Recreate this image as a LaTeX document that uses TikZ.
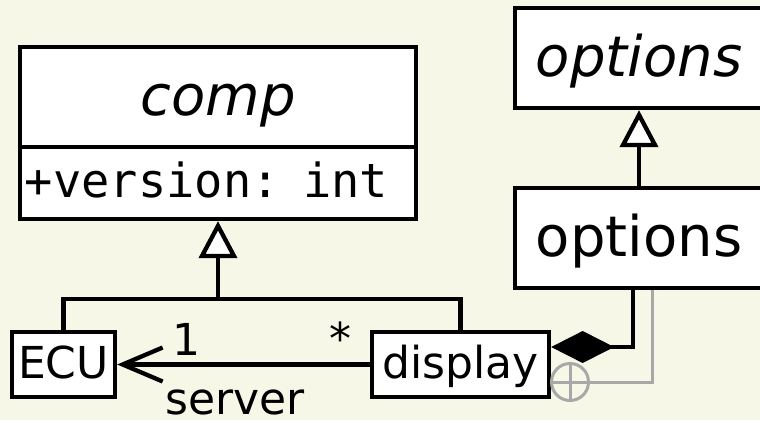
\documentclass[tikz,border=0pt]{standalone}
\usepackage{fontspec}
\setmainfont{DejaVu Sans}
\setmonofont{DejaVu Sans Mono}
\usepackage{tikz}
\usetikzlibrary{positioning,calc}
\usetikzlibrary{arrows.meta,shapes}
\definecolor{paper}{RGB}{247,247,232}
\definecolor{nestgray}{RGB}{168,168,168}
\newcommand\umlbig{\fontsize{56bp}{64bp}\selectfont}
\newcommand\umlsmall{\fontsize{44bp}{50bp}\selectfont}
\newcommand\umlmono{\ttfamily\fontsize{47bp}{52bp}\selectfont}
\tikzstyle{class} = [rectangle,draw=black,fill=white,line width=4.3bp,inner sep=0pt]
\tikzstyle{bigclass} = [class,font=\umlbig,text height=42bp,text depth=6bp,minimum height=100bp]
\tikzstyle{smallclass} = [class,font=\umlsmall,text height=32bp,text depth=5bp,minimum height=65bp]
\tikzstyle{label} = [inner sep=0pt,anchor=base,font=\umlsmall]
\tikzstyle{line} = [line width=4.3bp]
\tikzstyle{inherit} = [line,-{Triangle[open,fill=white,length=37bp,width=38bp]}]
\tikzstyle{assoc} = [line,-{Straight Barb[length=40bp,width=34bp]}]
\tikzstyle{compose} = [line,-{Diamond[length=63bp,width=32bp]}]
\tikzstyle{nest} = [draw=nestgray,line width=3bp]

\begin{document}
\begin{tikzpicture}[x=1bp,y=-1bp]
    \clip (0,0) rectangle (760,420);
    \fill[paper] (0,0) rectangle (760,420);
    % classes
    \node[bigclass,minimum width=396bp] (comp) at (218,97) {\itshape comp};
    \node[class,minimum width=396bp,minimum height=72bp,text width=386bp,align=left,
          font=\umlmono,text height=34bp,text depth=6bp] (attr) at (218,183) {+version: int};
    \node[bigclass,minimum width=248bp] (absopt) at (639,58) {\itshape options};
    \node[bigclass,minimum width=248bp] (opt) at (639,238) {options};
    \node[smallclass,minimum width=103bp] (ecu) at (63.5,364.5) {ECU};
    \node[smallclass,minimum width=177bp] (display) at (460.5,364.5) {display};
    \node[nest,circle,minimum size=37bp,inner sep=0pt] (plus) at (570,382) {};
    \draw[nest] (plus.north) -- (plus.south) (plus.west) -- (plus.east);
    % generalisations
    \coordinate (gen) at ($(attr.south)+(0,78)$);
    \draw[line] (ecu.north) |- (gen) -| (display.north);
    \draw[inherit] (gen) -- (attr.south);
    \draw[inherit] (opt.north) -- (absopt.south);
    % association
    \draw[assoc] (display.west) -- (ecu.east);
    \node[label] (one) at (186,355) {1};
    \node[label] (many) at (340,354) {*};
    \node[label] (role) at (235,414) {server};
    % composition and nesting
    \draw[compose] ($(opt.south)+(-6,0)$) |- ($(display.east)+(0,-17.5)$);
    \draw[nest] ($(opt.south)+(13,0)$) |- (plus.east);
\end{tikzpicture}
\end{document}
